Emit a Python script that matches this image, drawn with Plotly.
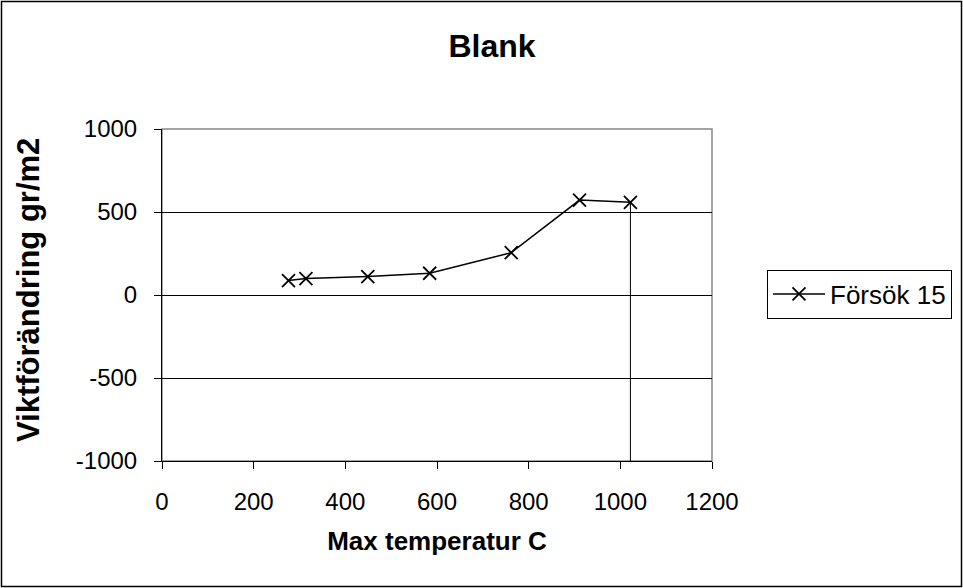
import plotly.graph_objects as go

# Data
temps = [276, 314, 449, 584, 762, 911, 1022]
weight_change = [87, 99, 111, 131, 255, 572, 558]
series_name = "Försök 15"
title_text = "Blank"
x_title = "Max temperatur C"
y_title = "Viktförändring gr/m2"
x_ticks = [0, 200, 400, 600, 800, 1000, 1200]
y_ticks = [-1000, -500, 0, 500, 1000]
y_tick_text = ["-1000", "-500", "0", "500", "1000"]

W, H = 963, 588
L, R, T, B = 162, 251, 129, 127
pw, ph = W - L - R, H - T - B

font = "Liberation Sans, Arial, sans-serif"

fig = go.Figure()

# drop line from last point down to the x axis
fig.add_trace(go.Scatter(
    x=[temps[-1], temps[-1]], y=[y_ticks[0], weight_change[-1]],
    mode="lines", line=dict(color="black", width=1),
    showlegend=False, hoverinfo="skip"))

fig.add_trace(go.Scatter(
    x=temps, y=weight_change, mode="lines+markers", name=series_name,
    line=dict(color="black", width=1.5),
    marker=dict(symbol="x-thin", size=13, line=dict(color="black", width=1.8), color="black")))

def px_x(p):
    return (p - L) / pw

def px_y(p):
    return (H - B - p) / ph

fig.update_layout(
    width=W, height=H,
    margin=dict(l=L, r=R, t=T, b=B, autoexpand=False),
    paper_bgcolor="white", plot_bgcolor="white",
    font=dict(family=font, size=24, color="black"),
    title=dict(text="<b>" + title_text + "</b>", x=px_x(492), xref="paper",
               xanchor="center", y=1 - 46 / H, yanchor="middle",
               font=dict(size=32, family=font, color="black")),
    showlegend=True,
    legend=dict(x=px_x(767), y=px_y(294), xanchor="left", yanchor="middle",
                bordercolor="black", borderwidth=1, bgcolor="white",
                font=dict(size=26, family=font), itemwidth=52,
                tracegroupgap=0),
    xaxis=dict(range=[0, 1200], tickvals=x_ticks, ticks="outside", ticklen=7,
               tickcolor="black", showline=True, linecolor="black", linewidth=1,
               showgrid=False, zeroline=False, tickfont=dict(size=24),
               ticklabelstandoff=12,
               title=dict(text="<b>" + x_title + "</b>", font=dict(size=26), standoff=18)),
    yaxis=dict(range=[-1000, 1000], tickvals=y_ticks, ticktext=y_tick_text,
               ticks="outside", ticklen=7,
               tickcolor="black", showline=True, linecolor="black", linewidth=1,
               showgrid=True, gridcolor="black", gridwidth=1, zeroline=False,
               tickfont=dict(size=24), ticklabelstandoff=12),
    annotations=[
        dict(text="<b>" + y_title + "</b>", xref="paper", yref="paper",
             x=px_x(28), y=px_y(290), xanchor="center", yanchor="middle",
             textangle=-90, showarrow=False, font=dict(size=31, family=font)),
    ],
    shapes=[
        dict(type="rect", xref="paper", yref="paper", x0=0, x1=1, y0=0, y1=1,
             line=dict(color="#888888", width=1.5), layer="below"),
        dict(type="rect", xref="paper", yref="paper",
             x0=px_x(1.5), x1=px_x(961.5), y0=px_y(586.5), y1=px_y(1.5),
             line=dict(color="black", width=1.5)),
    ],
)

fig.write_html("out.html")
